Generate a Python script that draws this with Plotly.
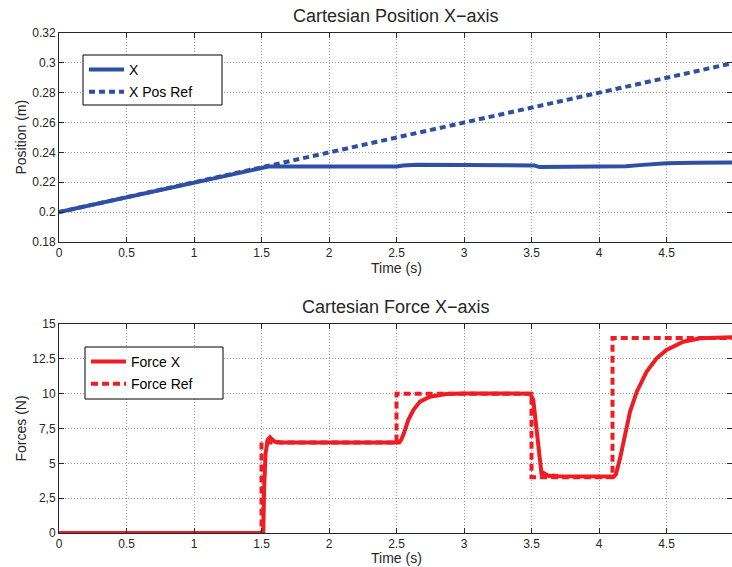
import plotly.graph_objects as go

# ---------------- data ----------------
pos_time = [0.0, 1.5, 1.55, 2.5, 2.55, 2.65, 3.5, 3.52, 3.56, 4.1, 4.2, 4.3, 4.4, 4.5, 4.7, 5.0]
pos_x = [0.2, 0.23, 0.2305, 0.2306, 0.2312, 0.2317, 0.2318, 0.2313, 0.2302, 0.2301, 0.2307,
         0.2315, 0.2322, 0.2327, 0.2331, 0.2333]
ref_time = [0.0, 5.0]
ref_x = [0.2, 0.3]

force_time = [0.0, 1.513, 1.52, 1.53, 1.546, 1.563, 1.58, 1.60, 1.65, 2.52, 2.535, 2.55, 2.587,
              2.625, 2.674, 2.748, 2.87, 3.0, 3.49, 3.513, 3.538, 3.558, 3.575, 3.59, 3.61, 3.63,
              3.66, 3.7, 4.11, 4.125, 4.156, 4.193, 4.23, 4.28, 4.353, 4.427, 4.5, 4.625, 4.75, 5.0]
force_x = [0.0, 0.0, 3.3, 5.7, 6.68, 6.87, 6.7, 6.55, 6.5, 6.5, 6.7, 7.03, 8.11,
           8.83, 9.43, 9.78, 9.98, 10.02, 10.0, 9.55, 7.39, 5.48, 4.16, 4.3, 4.2, 4.08,
           4.12, 4.07, 4.05, 4.2, 5.36, 7.04, 8.71, 10.14, 11.58, 12.54, 13.14, 13.73, 13.97, 14.05]
fref_time = [0.0, 1.5, 1.5, 2.5, 2.5, 3.5, 3.5, 4.1, 4.1, 5.0]
fref_val = [0.0, 0.0, 6.5, 6.5, 10.0, 10.0, 4.0, 4.0, 14.0, 14.0]

x_ticks = [0, 0.5, 1, 1.5, 2, 2.5, 3, 3.5, 4, 4.5, 5]
x_ticktext = ["0", "0.5", "1", "1.5", "2", "2.5", "3", "3.5", "4", "4.5", "5"]
pos_ticks = [0.18, 0.2, 0.22, 0.24, 0.26, 0.28, 0.3, 0.32]
pos_ticktext = ["0.18", "0.2", "0.22", "0.24", "0.26", "0.28", "0.3", "0.32"]
force_ticks = [0, 2.5, 5, 7.5, 10, 12.5, 15]
force_ticktext = ["0", "2,5", "5", "7,5", "10", "12.5", "15"]

BLUE = "#2F4FA2"
RED = "#EE1D24"
AX = "#262626"
GRID = "#9a9a9a"
FONT = "Liberation Sans, Arial, sans-serif"

fig = go.Figure()
fig.add_trace(go.Scatter(x=ref_time, y=ref_x, mode="lines", name="X Pos Ref",
                         line=dict(color=BLUE, width=4, dash="6px,4px"),
                         xaxis="x", yaxis="y", legend="legend", legendrank=2,
                         legendgroup="b"))
fig.add_trace(go.Scatter(x=pos_time, y=pos_x, mode="lines", name="X",
                         line=dict(color=BLUE, width=4),
                         xaxis="x", yaxis="y", legend="legend", legendrank=1,
                         legendgroup="a"))
fig.add_trace(go.Scatter(x=force_time, y=force_x, mode="lines", name="Force X",
                         line=dict(color=RED, width=4),
                         xaxis="x2", yaxis="y2", legend="legend2", legendrank=1,
                         legendgroup="c"))
fig.add_trace(go.Scatter(x=fref_time, y=fref_val, mode="lines", name="Force Ref",
                         line=dict(color=RED, width=4, dash="7px,4px"),
                         xaxis="x2", yaxis="y2", legend="legend2", legendrank=2,
                         legendgroup="d"))

W, H = 732, 567
ML, MR, MT, MB = 59, 0, 33, 34
plot_h = H - MT - MB


def py(p):
    return (H - MB - p) / plot_h


def px(p):
    return (p - ML) / (W - ML - MR)


axis_common = dict(
    showline=True, linecolor=AX, linewidth=1, mirror="ticks",
    ticks="inside", ticklen=5, tickcolor=AX, tickwidth=1,
    showgrid=True, gridcolor=GRID, gridwidth=1, griddash="1px,2px",
    zeroline=False, tickfont=dict(family=FONT, size=12, color=AX),
)

xr = [0, (W - ML - MR) / 135.0]

legend_common = dict(xanchor="left", yanchor="top",
                     bgcolor="rgba(0,0,0,0)", borderwidth=0,
                     font=dict(family=FONT, size=14, color="black"),
                     tracegroupgap=1, traceorder="grouped", itemwidth=35)

fig.update_layout(
    width=W, height=H,
    margin=dict(l=ML, r=MR, t=MT, b=MB, pad=0),
    paper_bgcolor="white", plot_bgcolor="white",
    font=dict(family=FONT, color=AX),
    xaxis=dict(domain=[0, 1], anchor="y", range=xr, tickvals=x_ticks, ticktext=x_ticktext,
               **axis_common),
    yaxis=dict(domain=[py(242), 1], anchor="x", range=[0.18, 0.32], tickvals=pos_ticks,
               ticktext=pos_ticktext, **axis_common),
    xaxis2=dict(domain=[0, 1], anchor="y2", range=xr, tickvals=x_ticks, ticktext=x_ticktext,
                **axis_common),
    yaxis2=dict(domain=[0, py(324)], anchor="x2", range=[0, 15], tickvals=force_ticks,
                ticktext=force_ticktext, **axis_common),
    legend=dict(x=px(84), y=py(54), **legend_common),
    legend2=dict(x=px(86), y=py(346), **legend_common),
    showlegend=True,
)

# legend frames (white box with black border, drawn above the data)
fig.add_shape(type="rect", xref="paper", yref="paper", layer="above",
              x0=px(83), x1=px(222), y0=py(105), y1=py(55),
              line=dict(color="black", width=1), fillcolor="white")
fig.add_shape(type="rect", xref="paper", yref="paper", layer="above",
              x0=px(85), x1=px(223), y0=py(399), y1=py(347),
              line=dict(color="black", width=1), fillcolor="white")

annotations = [
    dict(text="Cartesian Position X\u2212axis", x=px(396), y=py(16), font=dict(size=18)),
    dict(text="Cartesian Force X\u2212axis", x=px(396), y=py(307), font=dict(size=18)),
    dict(text="Time (s)", x=px(396), y=py(267.5), font=dict(size=14)),
    dict(text="Time (s)", x=px(396), y=py(557.5), font=dict(size=14)),
    dict(text="Position (m)", x=px(20), y=py(137.5), textangle=-90, font=dict(size=14)),
    dict(text="Forces (N)", x=px(20), y=py(428.5), textangle=-90, font=dict(size=14)),
]
for a in annotations:
    a.update(xref="paper", yref="paper", showarrow=False, xanchor="center", yanchor="middle")
    a["font"].update(family=FONT, color=AX)
fig.update_layout(annotations=annotations)

fig.write_html("out.html")
